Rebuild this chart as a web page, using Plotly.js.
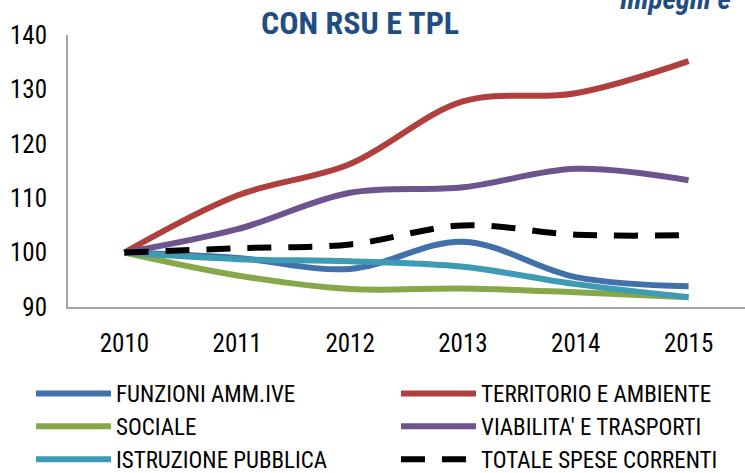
<!DOCTYPE html>
<html>
<head>
<meta charset="utf-8">
<script src="https://cdn.plot.ly/plotly-3.0.1.min.js"></script>
<style>html,body{margin:0;padding:0;background:#fff;}#chart{width:745px;height:473px;}</style>
</head>
<body>
<div id="chart"></div>
<script>
const years = [2010, 2011, 2012, 2013, 2014, 2015];
const yTicks = [90, 100, 110, 120, 130, 140];
const seriesNames = ["FUNZIONI AMM.IVE", "TERRITORIO E AMBIENTE", "SOCIALE", "VIABILITA' E TRASPORTI", "ISTRUZIONE PUBBLICA", "TOTALE SPESE CORRENTI"];
const funzioni   = [100, 99.0, 97.0, 102.0, 95.5, 93.8];
const territorio = [100, 110.5, 116.3, 127.8, 129.3, 135.2];
const sociale    = [100, 95.8, 93.3, 93.4, 92.7, 91.8];
const viabilita  = [100, 104.3, 111.0, 112.0, 115.4, 113.3];
const istruzione = [100, 98.8, 98.4, 97.4, 94.2, 91.8];
const totale     = [100, 100.8, 101.5, 105.0, 103.3, 103.2];
const titleText = "CON RSU E TPL";
const cornerText = "Impegni e";

const colors = ["#4170AA", "#B0403D", "#87A84A", "#6E548F", "#3D9BB3", "#000000"];
const values = [funzioni, territorio, sociale, viabilita, istruzione, totale];
const legendOf = ['legend', 'legend2', 'legend', 'legend2', 'legend', 'legend2'];
const FONT = "'Liberation Sans Narrow', 'Arial Narrow', 'Roboto Condensed', 'DejaVu Sans Condensed', sans-serif";

const traces = values.map((v, i) => ({
  x: years, y: v, name: seriesNames[i], type: 'scatter', mode: 'lines',
  legend: legendOf[i], legendgroup: 'g' + i,
  line: {color: colors[i], width: 6, shape: 'spline', smoothing: 1, dash: i === 5 ? '24px,17px' : 'solid'},
  hoverinfo: 'skip'
}));

const PL = 68, PW = 677, PT = 35, PH = 272;
const px2x = p => (p - PL) / PW;
const px2y = p => 1 - (p - PT) / PH;

const legendBase = {
  orientation: 'v', xanchor: 'left', yanchor: 'top', itemwidth: 75, tracegroupgap: 6,
  traceorder: 'normal', font: {family: FONT, size: 23, color: '#000'}, bgcolor: 'rgba(0,0,0,0)'
};

const layout = {
  width: 745, height: 473,
  margin: {l: PL, r: 0, t: PT, b: 473 - PT - PH, autoexpand: false},
  paper_bgcolor: '#fff', plot_bgcolor: '#fff',
  font: {family: FONT, color: '#000', size: 24},
  showlegend: true,
  xaxis: {range: [2009.5, 2015.5], tickvals: years, ticktext: years.map(String), showgrid: false, zeroline: false,
          showline: true, linecolor: '#A6A6A6', linewidth: 2, ticks: '', ticklabelstandoff: 13,
          tickfont: {family: FONT, size: 25, color: '#000'}},
  yaxis: {range: [90, 140], tickvals: yTicks, showgrid: false, zeroline: false,
          showline: true, linecolor: '#A6A6A6', linewidth: 2, ticks: '', ticklabelstandoff: 14,
          tickfont: {family: FONT, size: 25, color: '#000'}},
  legend: Object.assign({}, legendBase, {x: px2x(31), y: px2y(372)}),
  legend2: Object.assign({}, legendBase, {x: px2x(396), y: px2y(372)}),
  annotations: [
    {text: '<b>' + titleText + '</b>', xref: 'paper', yref: 'paper', x: px2x(360), y: px2y(23),
     xanchor: 'center', yanchor: 'middle', showarrow: false, font: {family: FONT, size: 32, color: '#1F4E84'}},
    {text: '<b><i>' + cornerText + '</i></b>', xref: 'paper', yref: 'paper', x: px2x(618), y: px2y(18),
     xanchor: 'left', yanchor: 'bottom', showarrow: false, font: {family: FONT, size: 29, color: '#1F4E84'}}
  ]
};

Plotly.newPlot('chart', traces, layout, {displayModeBar: false, staticPlot: true});
</script>
</body>
</html>
